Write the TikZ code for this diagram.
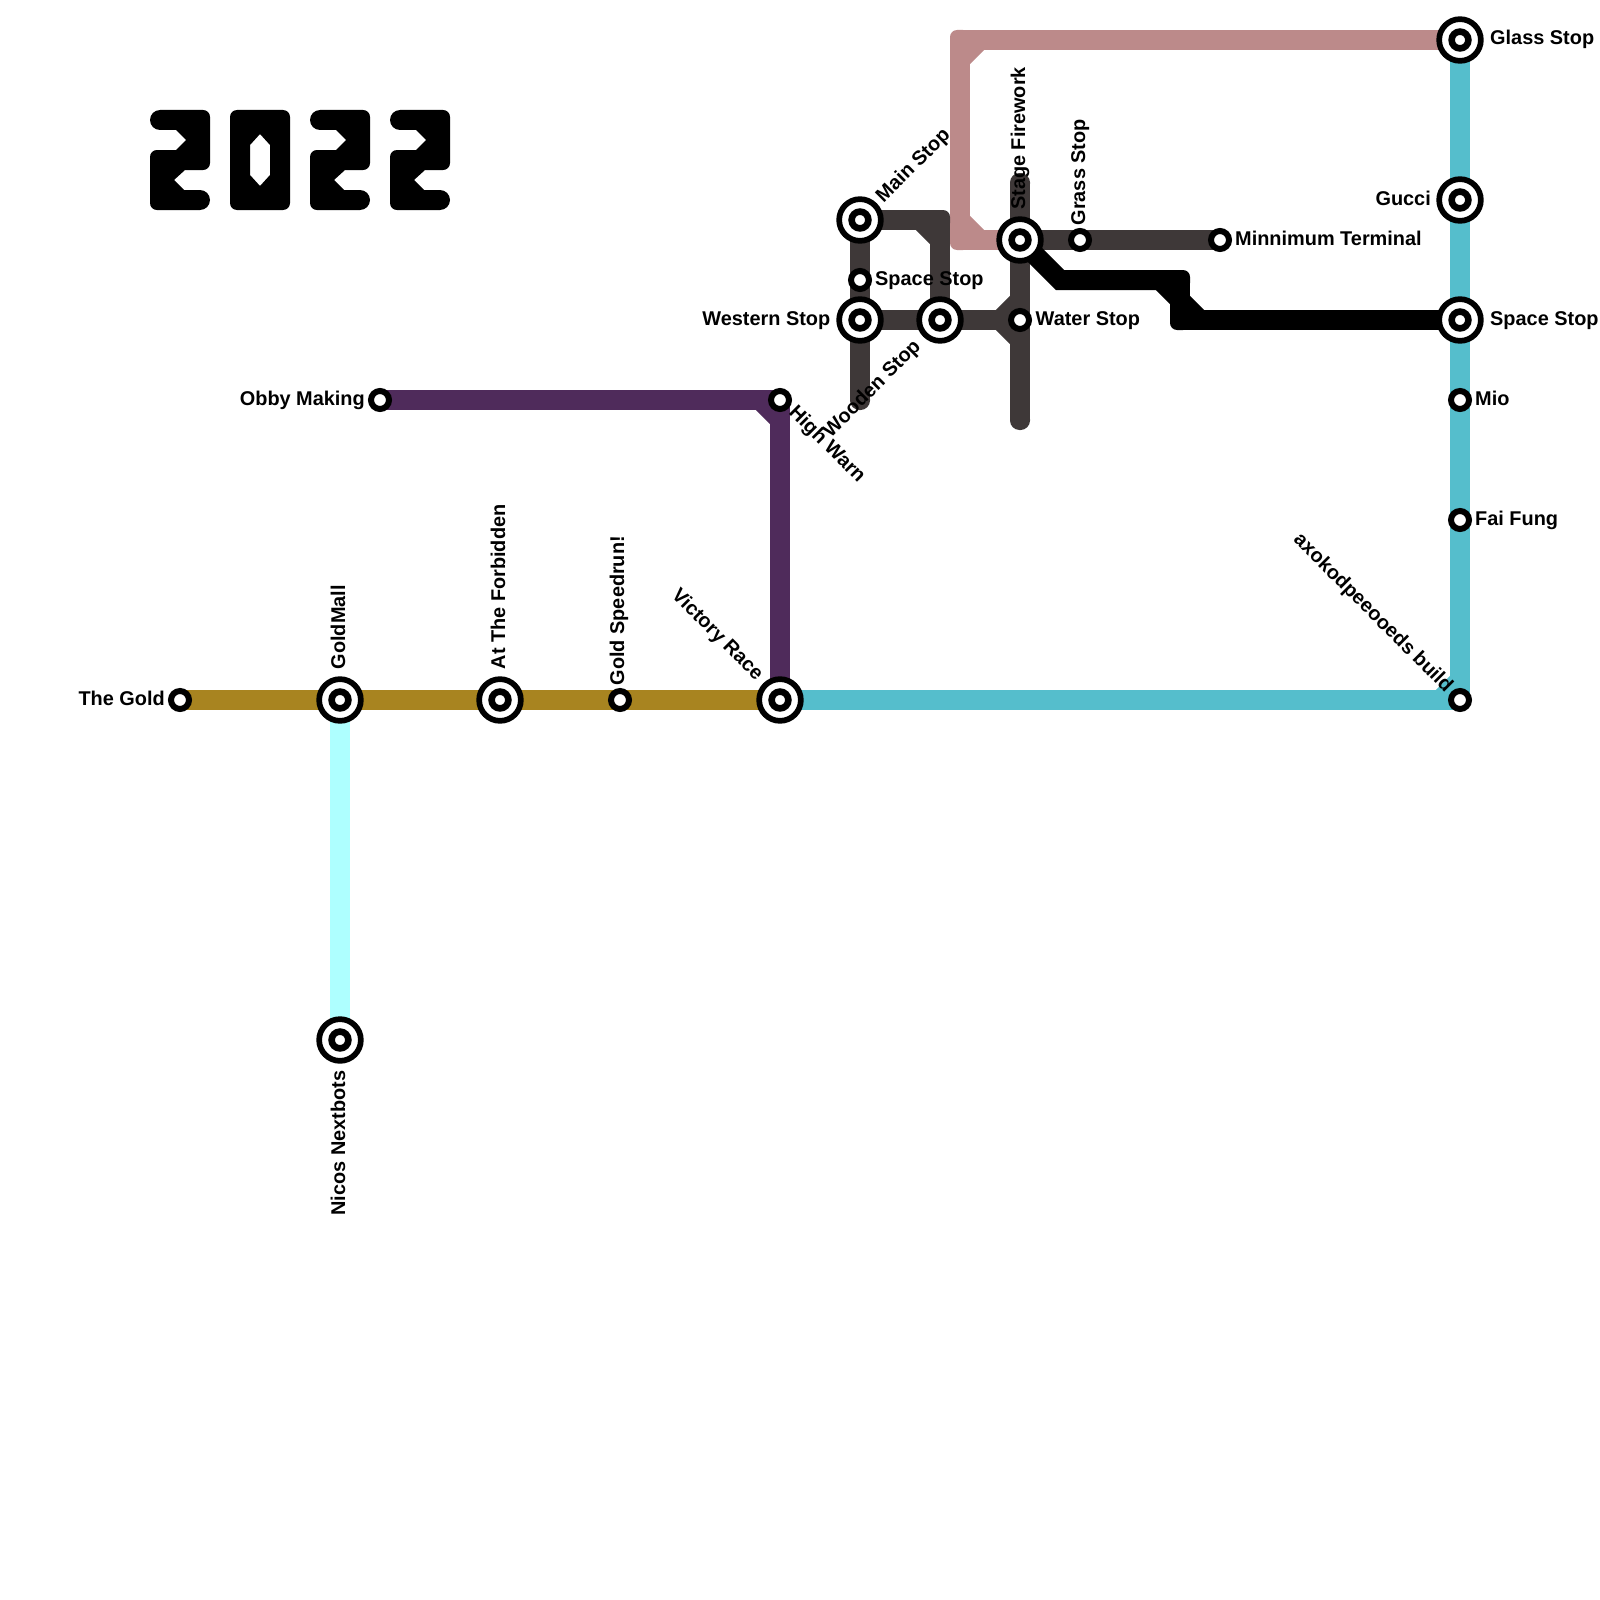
\documentclass[tikz,border=0pt]{standalone}
\usepackage{fontspec}
\setmainfont{Liberation Sans}
\usetikzlibrary{calc}
\pgfdeclarelayer{lines}
\pgfsetlayers{lines,main}
\definecolor{cteal}{HTML}{55BECC}
\definecolor{cgold}{HTML}{A88420}
\definecolor{cplum}{HTML}{4F2B5B}
\definecolor{ccyan}{HTML}{AEFFFF}
\definecolor{cdark}{HTML}{3E3838}
\definecolor{cpink}{HTML}{BC8A8A}
\tikzset{
  x=1pt,y=-1pt,
  metro/.style={line width=20pt,line cap=butt,line join=bevel},
  elbow/.style={rectangle,rounded corners=7pt,minimum size=20pt,inner sep=0pt,draw=none,fill=#1},
  tip/.style={rectangle,rounded corners=9.5pt,minimum size=20pt,inner sep=0pt,draw=none,fill=#1},
  lab/.style={inner sep=0pt,font=\fontsize{19.9}{24}\selectfont\bfseries,text=black,text height=14.5pt,text depth=4.5pt},
}
\newcommand{\hubnode}[2]{\node[circle,minimum size=41.7pt,inner sep=0pt,line width=5.7pt,draw=black,fill=white] (#1) at (#2) {};
  \draw[line width=6.6pt,draw=black,fill=white] (#1.center) circle (8.4pt);}
\newcommand{\haltnode}[2]{\node[circle,minimum size=18pt,inner sep=0pt,line width=6pt,draw=black,fill=white] (#1) at (#2) {};}
\newcommand{\chamfer}[4]{\draw[metro,draw=#1] ($(#2)+(#3,0)$) -- ($(#2)+(0,#4)$);}
\begin{document}
\begin{tikzpicture}
\useasboundingbox (0,0) rectangle (1600,1600);
% stations
\haltnode{gold}{180,700}
\hubnode{goldmall}{340,700}
\hubnode{forbidden}{500,700}
\haltnode{speedrun}{620,700}
\hubnode{victory}{780,700}
\hubnode{nicos}{340,1040}
\haltnode{obby}{380,400}
\haltnode{high}{780,400}
\hubnode{mainstop}{860,220}
\haltnode{spacesmall}{860,280}
\hubnode{western}{860,320}
\hubnode{wooden}{940,320}
\hubnode{stage}{1020,240}
\haltnode{water}{1020,320}
\haltnode{grass}{1080,240}
\haltnode{minni}{1220,240}
\hubnode{glass}{1460,40}
\hubnode{gucci}{1460,200}
\hubnode{spacebig}{1460,320}
\haltnode{mio}{1460,400}
\haltnode{fai}{1460,520}
\haltnode{axo}{1460,700}
\begin{pgfonlayer}{lines}
% cyan
\draw[metro,draw=ccyan] (goldmall.center) -- (nicos.center);
% teal
\node[elbow=cteal] (t1) at (axo.center) {};
\chamfer{cteal}{t1}{-20}{-20}
\draw[metro,draw=cteal] (victory.center) -- (axo.center) -- (glass.center);
% gold
\node[elbow=cgold] (g0) at (gold.center) {};
\draw[metro,draw=cgold] (g0.center) -- (victory.center);
% plum
\node[elbow=cplum] (p0) at (obby.center) {};
\node[elbow=cplum] (p1) at (high.center) {};
\chamfer{cplum}{p1}{-20}{20}
\draw[metro,draw=cplum] (p0.center) -- (p1.center) -- (victory.center);
% pink
\node[elbow=cpink] (k1) at (960,40) {};
\node[elbow=cpink] (k2) at (960,240) {};
\chamfer{cpink}{k1}{20}{20}
\chamfer{cpink}{k2}{20}{-20}
\draw[metro,draw=cpink] (glass.center) -- (k1.center) -- (k2.center) -- (stage.center);
% dark
\node[elbow=cdark] (d1) at (940,220) {};
\node[tip=cdark] (d2) at (860,400) {};
\node[tip=cdark] (d3) at (1020,183) {};
\node[tip=cdark] (d4) at (1020,420) {};
\chamfer{cdark}{d1}{-20}{20}
\chamfer{cdark}{water}{-20}{-20}
\chamfer{cdark}{water}{-20}{20}
\draw[metro,draw=cdark] (mainstop.center) -- (d1.center) -- (wooden.center);
\draw[metro,draw=cdark] (mainstop.center) -- (d2.center);
\draw[metro,draw=cdark] (western.center) -- (water.center);
\draw[metro,draw=cdark] (d3.center) -- (d4.center);
\draw[metro,draw=cdark] (stage.center) -- (minni.center);
% black
\coordinate (b1) at (1060,280);
\node[elbow=black] (b2) at (1180,280) {};
\node[elbow=black] (b3) at (1180,320) {};
\chamfer{black}{b2}{-20}{20}
\chamfer{black}{b3}{20}{-20}
\draw[metro,draw=black,line join=miter] (stage.center) -- (b1) -- (b2.center);
\draw[metro,draw=black] (b2.center) -- (b3.center) -- (spacebig.center);
\end{pgfonlayer}
% labels
\node[lab,anchor=west] (l1) at (1490,40) {Glass Stop};
\node[lab,anchor=east] (l2) at (1431,200) {Gucci};
\node[lab,anchor=west] (l3) at (1490,320) {Space Stop};
\node[lab,anchor=west] (l4) at (1475,400) {Mio};
\node[lab,anchor=west] (l5) at (1475,520) {Fai Fung};
\node[lab,anchor=east,rotate=-45] (l6) at (1449,690) {axokodpeeooeds build};
\node[lab,anchor=east,rotate=-45] (l7) at (759.5,678) {Victory Race};
\node[lab,anchor=west,rotate=-45] (l8) at (791.5,410) {High Warn};
\node[lab,anchor=east,rotate=45] (l9) at (918,344) {Wooden Stop};
\node[lab,anchor=west,rotate=45] (l10) at (880,200) {Main Stop};
\node[lab,anchor=west,rotate=90] (l11) at (1020,210) {Stage Firework};
\node[lab,anchor=west,rotate=90] (l12) at (1080,225.5) {Grass Stop};
\node[lab,anchor=west] (l13) at (1235,240) {Minnimum Terminal};
\node[lab,anchor=west] (l14) at (1035.5,320) {Water Stop};
\node[lab,anchor=west] (l15) at (875,280) {Space Stop};
\node[lab,anchor=east] (l16) at (830.5,320) {Western Stop};
\node[lab,anchor=east] (l17) at (365,400) {Obby Making};
\node[lab,anchor=east] (l18) at (165,700) {The Gold};
\node[lab,anchor=west,rotate=90] (l19) at (340,669.5) {GoldMall};
\node[lab,anchor=west,rotate=90] (l20) at (500,669.5) {At The Forbidden};
\node[lab,anchor=west,rotate=90] (l21) at (619,685.5) {Gold Speedrun!};
\node[lab,anchor=east,rotate=90] (l22) at (340,1070.5) {Nicos Nextbots};
% 2022
\foreach \gx in {0,160,240}{
\fill[black,xshift=\gx pt]
  (160,110) -- (203,110) .. controls (206.9,110) and (210,113.1) .. (210,117) -- (210,163) .. controls (210,166.9) and (206.9,170) .. (203,170) -- (185,170) -- (174,180) -- (184,190) -- (200,190) .. controls (205.5,190) and (210,194.5) .. (210,200) .. controls (210,205.5) and (205.5,210) .. (200,210) -- (157,210) .. controls (153.1,210) and (150,206.9) .. (150,203) -- (150,157) .. controls (150,153.1) and (153.1,150) .. (157,150) -- (176,150) -- (186,140) -- (176,130) -- (160,130) .. controls (154.5,130) and (150,125.5) .. (150,120) .. controls (150,114.5) and (154.5,110) .. (160,110) -- cycle;
}
\fill[black,even odd rule] [rounded corners=7pt] (230,110) rectangle (290,210) [sharp corners] (260,134) -- (270,145) -- (270,175) -- (260,186) -- (250,175) -- (250,145) -- cycle;
\end{tikzpicture}
\end{document}
